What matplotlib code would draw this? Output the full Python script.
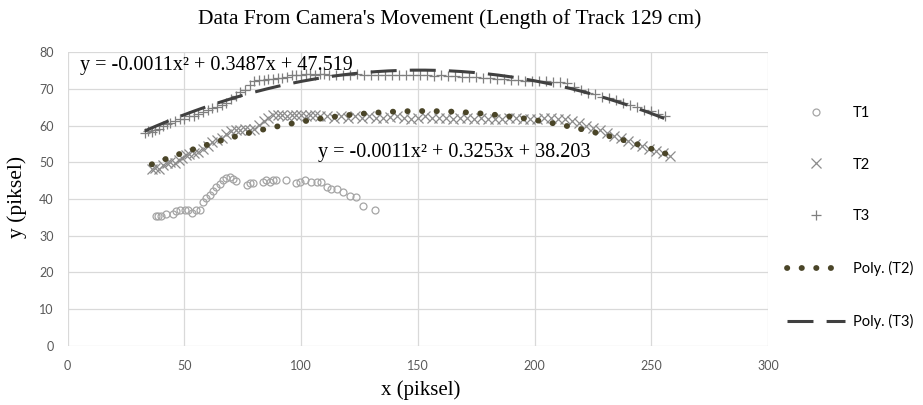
import matplotlib
matplotlib.use("Agg")
import matplotlib.pyplot as plt
import numpy as np

# T1 points (open circles)
t1_x = [37.7, 38.7, 40.1, 42.0, 45.1, 46.6, 48.0, 50.1, 51.6, 53.4, 54.9, 56.6,
        58.0, 59.4, 60.9, 62.3, 63.7, 65.1, 66.6, 68.0, 69.4, 70.9, 72.3, 76.6,
        78.0, 79.4, 83.7, 85.1, 86.6, 88.0, 89.4, 93.7, 98.0, 99.4, 101.6, 104.4,
        106.6, 108.7, 110.9, 113.0, 115.2, 118.1, 120.9, 123.7, 126.6, 131.6]
t1_y = [35.5, 35.5, 35.5, 36.0, 36.0, 36.7, 37.0, 37.0, 37.0, 36.3, 37.0, 37.0,
        39.3, 40.3, 41.2, 42.2, 43.2, 44.2, 45.2, 45.7, 45.9, 45.5, 45.0, 43.9,
        44.3, 44.3, 44.6, 45.3, 44.6, 45.3, 45.3, 45.1, 44.3, 44.6, 45.3, 44.6,
        44.6, 44.6, 43.3, 42.6, 42.6, 41.8, 40.9, 40.5, 38.1, 37.0]

# T2 points (x markers)
t2_x = [36, 37.5, 39, 41, 42.5, 44, 46, 47.5, 49, 50.5, 52, 54, 56, 58, 60, 62,
        64, 66, 68, 70, 72, 74, 76, 78, 80, 82, 84, 86, 88, 90, 92, 94, 96, 98,
        100, 102, 104, 106, 108, 111, 114, 117, 120, 123, 126, 129, 132, 135,
        138, 141, 144, 147, 150, 153, 156, 159, 162, 165, 168, 171, 174, 177,
        180, 183, 186, 189, 192, 195, 198, 201, 204, 207, 210, 213, 216, 219,
        222, 225, 228, 231, 234, 237, 240, 243, 246, 249, 252, 255, 258]
t2_y = [48.2, 48.5, 48.2, 49.2, 49.9, 50.2, 49.9, 50.5, 51.2, 51.9, 52.2, 52.5,
        52.9, 53.7, 54.5, 55.5, 56.2, 56.7, 57.7, 58.5, 58.9, 58.7, 59.0, 58.9,
        59.2, 60.2, 61.2, 62.2, 62.9, 63.0, 63.0, 62.7, 63.0, 63.0, 63.0, 62.7,
        63.0, 62.9, 62.7, 62.5, 62.2, 62.5, 62.2, 62.5, 62.2, 62.5, 62.2, 62.0,
        62.3, 62.5, 62.2, 61.7, 62.0, 62.5, 62.2, 62.0, 62.2, 61.9, 62.2, 62.0,
        61.7, 62.0, 61.7, 61.9, 61.7, 62.0, 62.2, 61.9, 61.7, 61.9, 62.2, 62.0,
        61.9, 61.7, 61.2, 60.7, 60.0, 59.3, 58.7, 58.0, 57.2, 56.5, 55.7, 55.0,
        54.5, 53.7, 53.0, 52.5, 51.7]

# T3 points (+ markers)
t3_x = [33, 34.5, 36, 37.5, 39, 41, 42.5, 44, 46, 48, 50, 52, 54, 56, 58, 60,
        62, 64, 66, 68, 70, 72, 74, 76, 78, 80, 82, 84, 86, 88, 90, 92, 94, 96,
        98, 100, 102, 104, 106, 108, 110, 112, 115, 118, 121, 124, 127, 130,
        133, 136, 139, 142, 145, 148, 151, 154, 157, 160, 163, 166, 169, 172,
        175, 178, 181, 184, 187, 190, 193, 196, 199, 202, 205, 208, 211, 214,
        217, 220, 223, 226, 229, 232, 235, 238, 241, 244, 247, 250, 253, 256]
t3_y = [58.0, 58.5, 58.2, 58.9, 59.2, 60.0, 60.5, 60.7, 61.2, 61.7, 61.9, 62.5,
        62.7, 63.2, 63.7, 64.2, 64.7, 65.2, 65.7, 66.2, 67.2, 68.2, 69.2, 69.7,
        71.2, 72.2, 72.5, 72.5, 72.7, 72.7, 72.9, 73.0, 73.2, 73.7, 73.9, 73.9,
        74.0, 74.0, 73.9, 74.0, 74.0, 73.7, 73.7, 73.9, 73.7, 74.0, 73.7, 73.9,
        73.7, 73.7, 73.9, 73.7, 73.7, 73.7, 73.9, 73.7, 73.5, 73.7, 73.5, 73.5,
        73.3, 73.2, 73.2, 73.0, 72.9, 72.7, 72.7, 72.5, 72.5, 72.3, 72.3, 72.2,
        72.1, 71.9, 71.9, 71.7, 70.5, 69.7, 69.0, 68.5, 67.9, 67.5, 66.9, 66.2,
        65.7, 65.0, 64.4, 63.9, 63.2, 62.7]

eq_t3 = "y = -0.0011x² + 0.3487x + 47.519"
eq_t2 = "y = -0.0011x² + 0.3253x + 38.203"

serif = "Liberation Serif"
sans = "Lato"

fig = plt.figure(figsize=(9.23, 4.05), dpi=100)
ax = fig.add_axes([67.7 / 923, 1 - 345.7 / 405, 700.3 / 923, 293.4 / 405])

ax.plot(t1_x, t1_y, ls="none", marker="o", ms=5, mfc="none", mec="#a5a5a5",
        mew=0.9, label="T1")
ax.plot(t2_x, t2_y, ls="none", marker="x", ms=6.5, mec="#8c8c8c", mew=0.9,
        label="T2")
ax.plot(t3_x, t3_y, ls="none", marker="+", ms=7.5, mec="#7f7f7f", mew=0.9,
        label="T3")

# polynomial trendlines (order 2), fitted to the points
c2 = np.polyfit(t2_x, t2_y, 2)
c3 = np.polyfit(t3_x, t3_y, 2)
xx2 = np.linspace(min(t2_x), max(t2_x), 300)
xx3 = np.linspace(min(t3_x), max(t3_x), 300)
ax.plot(xx2, np.polyval(c2, xx2), color="#4a4528", lw=4.2,
        ls=(0, (0.05, 2.45)), dash_capstyle="round", label="Poly. (T2)")
ax.plot(xx3, np.polyval(c3, xx3), color="#404040", lw=2.2,
        ls=(0, (8.5, 4.3)), label="Poly. (T3)")

ax.set_xlim(0, 300)
ax.set_ylim(0, 80)
ax.set_xticks(np.arange(0, 301, 50))
ax.set_yticks(np.arange(0, 81, 10))
ax.grid(True, color="#d9d9d9", lw=0.9)
ax.set_axisbelow(True)
for s in ax.spines.values():
    s.set_visible(False)
ax.tick_params(length=0, labelsize=9, labelcolor="#595959", pad=10)
for lab in ax.get_xticklabels() + ax.get_yticklabels():
    lab.set_fontfamily(sans)

fig.text(17.5 / 923, 1 - 197 / 405, "y (piksel)", rotation=90, ha="center",
         va="center", fontfamily=serif, fontsize=15.5)
fig.text(421 / 923, 1 - 390 / 405, "x (piksel)", ha="center", va="center",
         fontfamily=serif, fontsize=15)

ax.text(5.3, 76.3, eq_t3, fontfamily=serif, fontsize=14.5, va="center")
ax.text(107.3, 52.8, eq_t2, fontfamily=serif, fontsize=14.5, va="center")

fig.text(450 / 923, 1 - 19.5 / 405,
         "Data From Camera's Movement (Length of Track 129 cm)",
         ha="center", va="center", fontfamily=serif, fontsize=15.5)

handles, labels = ax.get_legend_handles_labels()
fig.legend(handles, labels, loc="center left",
           bbox_to_anchor=(787 / 923, 1 - 217.5 / 405),
           frameon=False, borderpad=0, borderaxespad=0, handlelength=4.0,
           handletextpad=0.5, labelspacing=2.6, numpoints=1,
           prop={"family": sans, "size": 10.5})

fig.savefig("out.png", dpi=100)
